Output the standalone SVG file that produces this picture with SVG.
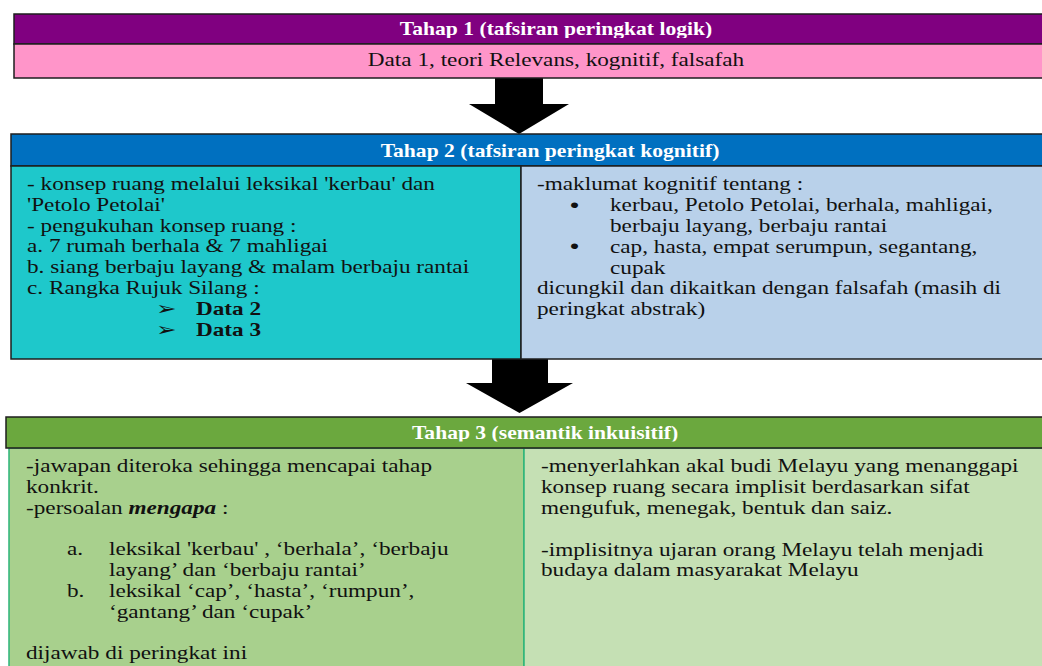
<svg xmlns="http://www.w3.org/2000/svg" width="1042" height="666" viewBox="0 0 1042 666">
<style>
  .hd { font-family: "Liberation Serif", "Times New Roman", serif; font-size: 18px; font-weight: bold; fill: #ffffff; }
  .tx { font-family: "Liberation Serif", "Times New Roman", serif; font-size: 18px; fill: #111111; }
  .b { font-weight: bold; }
  .bi { font-weight: bold; font-style: italic; }
  .sym { font-family: "DejaVu Sans", sans-serif; font-size: 19px; font-weight: bold; fill: #111111; }
  .bul { font-family: "Liberation Sans", Arial, sans-serif; font-size: 20px; fill: #111111; }
  .edge { stroke: #1e1e1e; stroke-width: 1.5; }
  .gedge { stroke: #2DB57A; stroke-width: 1.5; }
</style>
<defs>
  <clipPath id="clip1"><rect x="0" y="14" width="1042" height="24"/></clipPath>
  <clipPath id="clip3"><rect x="0" y="417" width="1042" height="24.5"/></clipPath>
</defs>

<g id="connectors">
  <polygon points="495,78 543,78 543,104 569,104 519,134 469,104 495,104" fill="#000000"/>
  <polygon points="492,359 548,359 548,383 573,383 519.5,413 466,383 492,383" fill="#000000"/>
</g>

<g id="tahap1">
  <rect x="14" y="14" width="1100" height="30" fill="#800080" class="edge"/>
  <rect x="14" y="44" width="1100" height="34" fill="#FF95C9" class="edge"/>
  <g clip-path="url(#clip1)">
    <g transform="translate(556,0) scale(1.2,1)">
      <text class="hd" x="0" y="35.5" text-anchor="middle">Tahap 1 (tafsiran peringkat logik)</text>
    </g>
  </g>
  <g transform="translate(556,0) scale(1.29,1)">
    <text class="tx" x="0" y="66" text-anchor="middle">Data 1, teori Relevans, kognitif, falsafah</text>
  </g>
</g>

<g id="tahap2">
  <rect x="11" y="134" width="1100" height="32" fill="#0070C0" class="edge"/>
  <rect x="11" y="166" width="510" height="193" fill="#1EC8CB" class="edge"/>
  <rect x="521" y="166" width="590" height="193" fill="#B9D1EA" class="edge"/>
  <g transform="translate(550,0) scale(1.2,1)">
    <text class="hd" x="0" y="157" text-anchor="middle">Tahap 2 (tafsiran peringkat kognitif)</text>
  </g>
  <g transform="translate(27,0) scale(1.29,1)">
    <text class="tx" x="0" y="190">- konsep ruang melalui leksikal 'kerbau' dan</text>
    <text class="tx" x="0" y="210.8">'Petolo Petolai'</text>
    <text class="tx" x="0" y="231.6">- pengukuhan konsep ruang :</text>
    <text class="tx" x="0" y="252.4">a. 7 rumah berhala &amp; 7 mahligai</text>
    <text class="tx" x="0" y="273.2">b. siang berbaju layang &amp; malam berbaju rantai</text>
    <text class="tx" x="0" y="294">c. Rangka Rujuk Silang :</text>
    <text class="sym" x="100" y="315.5">➢</text>
    <text class="tx b" x="131" y="314.8">Data 2</text>
    <text class="sym" x="100" y="336.3">➢</text>
    <text class="tx b" x="131" y="335.6">Data 3</text>
  </g>
  <g transform="translate(537,0) scale(1.29,1)">
    <text class="tx" x="0" y="190.5">-maklumat kognitif tentang :</text>
    <text class="bul" x="25.6" y="212">•</text>
    <text class="tx" x="56.6" y="211.3">kerbau, Petolo Petolai, berhala, mahligai,</text>
    <text class="tx" x="56.6" y="232">berbaju layang, berbaju rantai</text>
    <text class="bul" x="25.6" y="253.5">•</text>
    <text class="tx" x="56.6" y="252.8">cap, hasta, empat serumpun, segantang,</text>
    <text class="tx" x="56.6" y="273.6">cupak</text>
    <text class="tx" x="0" y="294.4">dicungkil dan dikaitkan dengan falsafah (masih di</text>
    <text class="tx" x="0" y="315.2">peringkat abstrak)</text>
  </g>
</g>

<g id="tahap3">
  <rect x="9" y="448" width="515" height="260" fill="#A8D08D" class="gedge"/>
  <rect x="524" y="448" width="590" height="260" fill="#C5E0B4" class="gedge"/>
  <rect x="6" y="417" width="1100" height="31" fill="#6BA83E" class="edge"/>
  <g clip-path="url(#clip3)">
    <g transform="translate(545,0) scale(1.2,1)">
      <text class="hd" x="0" y="439.5" text-anchor="middle">Tahap 3 (semantik inkuisitif)</text>
    </g>
  </g>
  <g transform="translate(26,0) scale(1.29,1)">
    <text class="tx" x="0" y="472">-jawapan diteroka sehingga mencapai tahap</text>
    <text class="tx" x="0" y="492.8">konkrit.</text>
    <text class="tx" x="0" y="513.6">-persoalan <tspan class="bi">mengapa</tspan> :</text>
    <text class="tx" x="31.8" y="555.2">a.</text>
    <text class="tx" x="64.3" y="555.2">leksikal 'kerbau' , ‘berhala’, ‘berbaju</text>
    <text class="tx" x="64.3" y="576">layang’ dan ‘berbaju rantai’</text>
    <text class="tx" x="31.8" y="596.8">b.</text>
    <text class="tx" x="64.3" y="596.8">leksikal ‘cap’, ‘hasta’, ‘rumpun’,</text>
    <text class="tx" x="64.3" y="617.6">‘gantang’ dan ‘cupak’</text>
    <text class="tx" x="0" y="659.2">dijawab di peringkat ini</text>
  </g>
  <g transform="translate(541,0) scale(1.29,1)">
    <text class="tx" x="0" y="472.5">-menyerlahkan akal budi Melayu yang menanggapi</text>
    <text class="tx" x="0" y="493.3">konsep ruang secara implisit berdasarkan sifat</text>
    <text class="tx" x="0" y="514">mengufuk, menegak, bentuk dan saiz.</text>
    <text class="tx" x="0" y="555.6">-implisitnya ujaran orang Melayu telah menjadi</text>
    <text class="tx" x="0" y="576.4">budaya dalam masyarakat Melayu</text>
  </g>
</g>
</svg>
